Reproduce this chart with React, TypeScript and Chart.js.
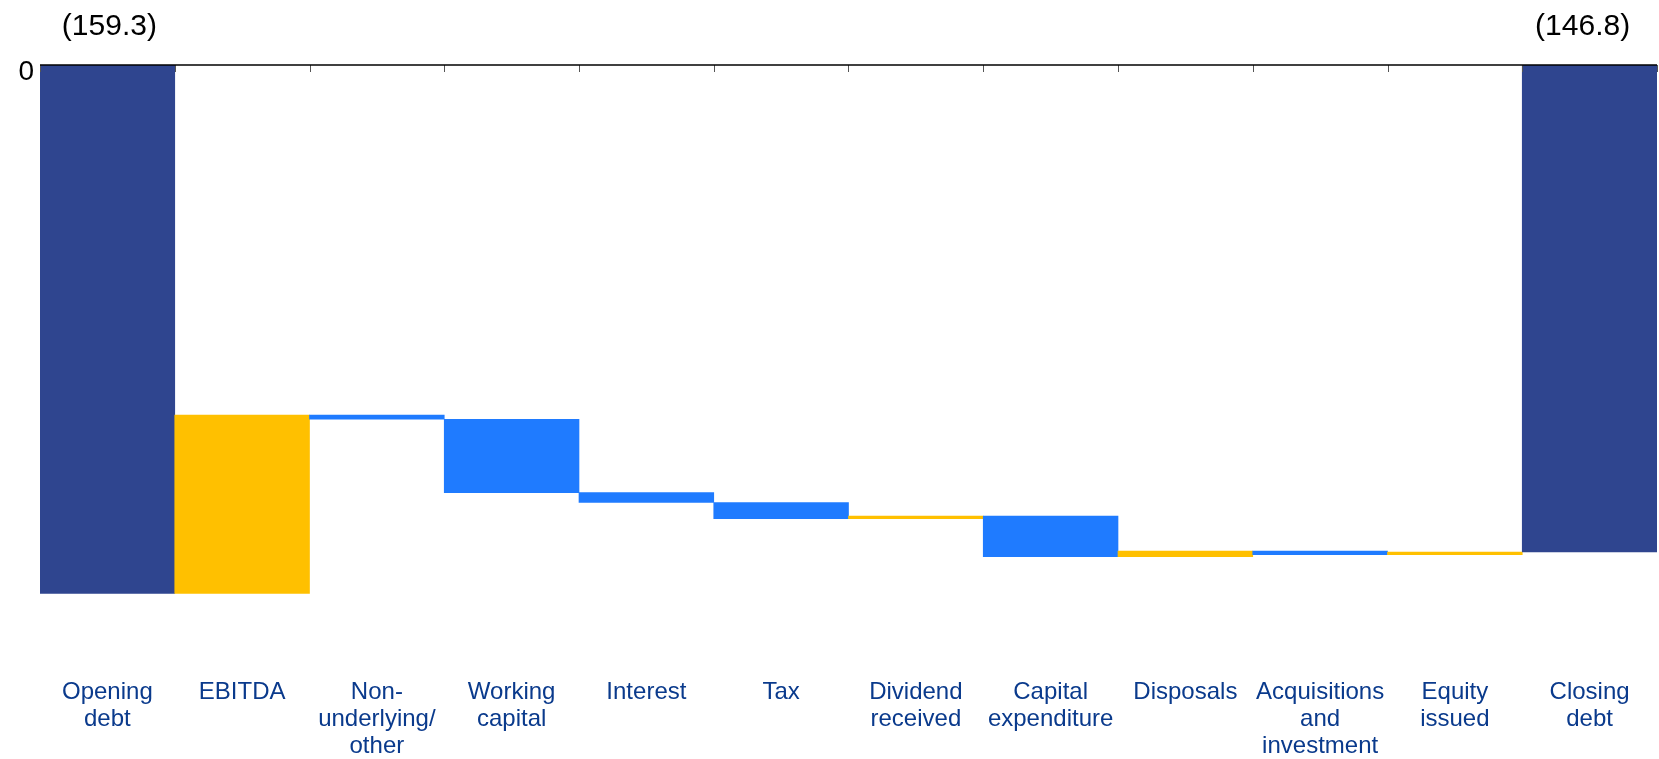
import React, { useEffect, useRef } from "react";
import { Chart, registerables } from "chart.js";

Chart.register(...registerables);

const categories: string[][] = [
  ["Opening", "debt"],
  ["EBITDA"],
  ["Non-", "underlying/", "other"],
  ["Working", "capital"],
  ["Interest"],
  ["Tax"],
  ["Dividend", "received"],
  ["Capital", "expenditure"],
  ["Disposals"],
  ["Acquisitions", "and", "investment"],
  ["Equity", "issued"],
  ["Closing", "debt"],
];

const openingDebt = -159.3;
const movements = [53.8, -1.3, -22.1, -3.0, -4.9, 0.8, -12.2, 1.7, -1.1, 0.8];
const closingDebt = -146.8;

const yMin = -185.4;
const yMax = 0;

const NAVY = "#2F458F";
const BLUE = "#1F7BFF";
const YELLOW = "#FFC000";
const LABEL_BLUE = "#0A3A8C";
const FONT = "'Liberation Sans', Arial, Helvetica, sans-serif";

function fmt(v: number): string {
  const s = Math.abs(v).toFixed(1);
  return v < 0 ? `(${s})` : s;
}

export default function App() {
  const ref = useRef<HTMLCanvasElement | null>(null);

  useEffect(() => {
    if (!ref.current) return;

    const ranges: [number, number][] = [];
    const colors: string[] = [];
    ranges.push([0, openingDebt]);
    colors.push(NAVY);
    let run = openingDebt;
    for (const m of movements) {
      const next = +(run + m).toFixed(1);
      ranges.push([run, next]);
      colors.push(m >= 0 ? YELLOW : BLUE);
      run = next;
    }
    ranges.push([0, closingDebt]);
    colors.push(NAVY);

    const topAxisPlugin = {
      id: "topAxis",
      afterDatasetsDraw(chart: any) {
        const ctx = chart.ctx;
        const x = chart.scales.x;
        const y = chart.scales.y;
        const y0 = y.getPixelForValue(0);
        const n = categories.length;
        const w = x.getPixelForValue(1) - x.getPixelForValue(0);
        ctx.save();
        ctx.strokeStyle = "#555555";
        ctx.lineWidth = 1;
        for (let i = 0; i <= n; i++) {
          const bx = Math.round(x.getPixelForValue(i) - w / 2) + 0.5;
          ctx.beginPath();
          ctx.moveTo(bx, y0);
          ctx.lineTo(bx, y0 + 7);
          ctx.stroke();
        }
        ctx.strokeStyle = "#000000";
        ctx.lineWidth = 1.5;
        ctx.beginPath();
        ctx.moveTo(chart.chartArea.left, y0);
        ctx.lineTo(chart.chartArea.right, y0);
        ctx.stroke();
        ctx.fillStyle = "#000000";
        ctx.font = `28px ${FONT}`;
        ctx.textAlign = "right";
        ctx.textBaseline = "middle";
        ctx.fillText("0", chart.chartArea.left - 6, y0 + 7);
        ctx.font = `30px ${FONT}`;
        ctx.textAlign = "center";
        ctx.textBaseline = "alphabetic";
        ctx.fillText(fmt(openingDebt), x.getPixelForValue(0) + 2, 35);
        ctx.fillText(fmt(closingDebt), x.getPixelForValue(n - 1) - 7, 35);
        ctx.restore();
      },
    };

    const chart = new Chart(ref.current, {
      type: "bar",
      data: {
        labels: categories,
        datasets: [
          {
            data: ranges as any,
            backgroundColor: colors,
            borderWidth: 0,
            barPercentage: 1,
            categoryPercentage: 1,
          },
        ],
      },
      options: {
        animation: false,
        responsive: false,
        maintainAspectRatio: false,
        layout: { padding: { top: 65, left: 40, right: 2, bottom: 0 } },
        plugins: {
          legend: { display: false },
          tooltip: { enabled: false },
        },
        scales: {
          x: {
            grid: { display: false, drawTicks: false },
            border: { display: false },
            ticks: {
              color: LABEL_BLUE,
              font: { family: FONT, size: 24, lineHeight: 27 / 24 },
              padding: -1,
              maxRotation: 0,
              autoSkip: false,
            },
          },
          y: {
            display: false,
            min: yMin,
            max: yMax,
          },
        },
      },
      plugins: [topAxisPlugin],
    });

    return () => chart.destroy();
  }, []);

  return (
    <div style={{ position: "fixed", left: 0, top: 0, width: 1659, height: 759, background: "#fff" }}>
      <canvas ref={ref} width={1659} height={759} style={{ width: 1659, height: 759, display: "block" }} />
    </div>
  );
}
